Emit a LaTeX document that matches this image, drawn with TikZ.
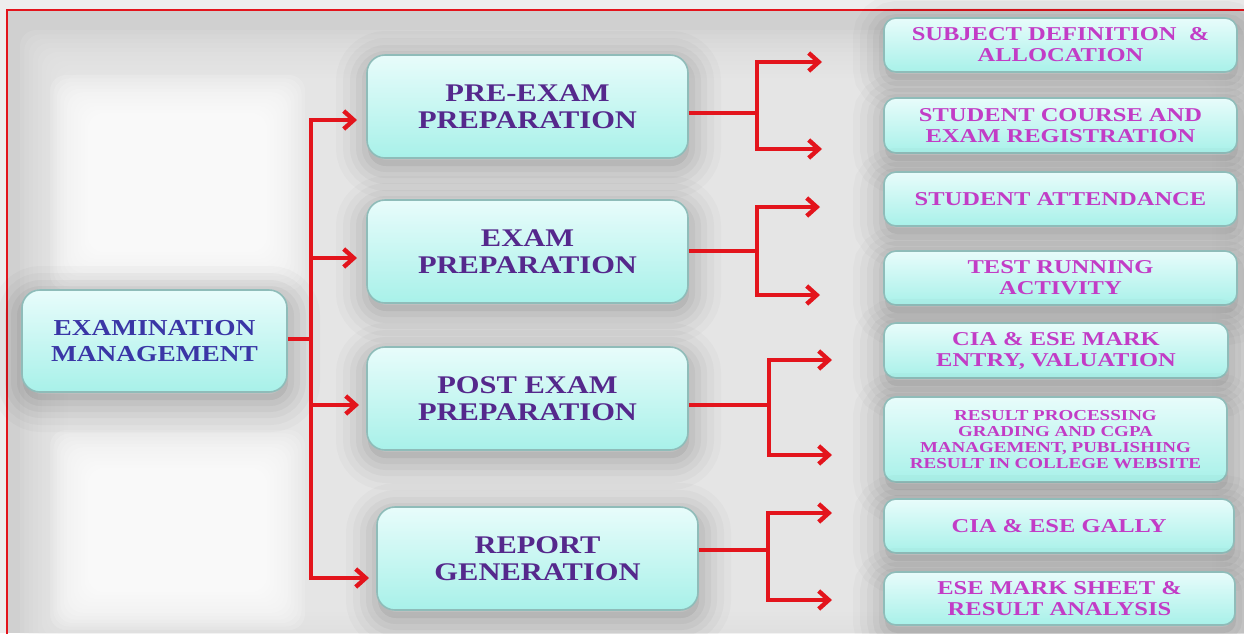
\documentclass[tikz,border=0pt]{standalone}
\usepackage{fontspec}
\newfontfamily\lblfont{Liberation Serif}[FakeStretch=1.2]
\newfontfamily\taskfont{Liberation Serif}[FakeStretch=1.25]
\usetikzlibrary{arrows.meta,calc}

\definecolor{arrowred}{HTML}{E3141C}
\definecolor{boxtop}{HTML}{E8FCFB}
\definecolor{boxbot}{HTML}{A8F1E9}
\definecolor{boxrim}{HTML}{8FBCB9}
\definecolor{maintext}{HTML}{3A36A6}
\definecolor{stagetext}{HTML}{55288C}
\definecolor{tasktext}{HTML}{C23CC6}
\definecolor{outerbg}{HTML}{EDEDED}
\definecolor{haze}{HTML}{D0D0D0}
\definecolor{lighthaze}{HTML}{EBEBEB}

% soft-edged rectangle: colour, x1, y1, x2, y2, feather
\newcommand\softpatch[6]{%
  \foreach \k in {0,...,15}{%
    \fill[#1, fill opacity=0.15, rounded corners=8pt]
      ({#2+\k*#6/16},{#3+\k*#6/16}) rectangle ({#4-\k*#6/16},{#5-\k*#6/16});
  }%
}

\tikzset{
  shadowshift/.style={transform canvas={xshift=0.5pt, yshift=-4pt}},
  softshadow/.style={
    preaction={fill=black, fill opacity=0.06, shadowshift},
    preaction={draw=black, draw opacity=0.02, line width=32pt, shadowshift},
    preaction={draw=black, draw opacity=0.025, line width=25pt, shadowshift},
    preaction={draw=black, draw opacity=0.03, line width=18pt, shadowshift},
    preaction={draw=black, draw opacity=0.035, line width=12pt, shadowshift},
    preaction={draw=black, draw opacity=0.04, line width=6pt, shadowshift},
  },
  boxbase/.style={softshadow, draw=boxrim, line width=0.8pt,
    top color=boxtop, bottom color=boxbot, inner sep=0pt, align=center},
  mainbox/.style={boxbase, rounded corners=9pt,
    minimum width=132.5pt, minimum height=51pt, text=maintext,
    font=\lblfont\bfseries\fontsize{11.4}{13}\selectfont},
  stagebox/.style={boxbase, rounded corners=9pt,
    minimum width=160.5pt, minimum height=51.5pt, text=stagetext,
    font=\lblfont\bfseries\fontsize{12.7}{13.5}\selectfont},
  taskbox/.style={boxbase, rounded corners=6pt,
    minimum height=27pt, text=tasktext,
    font=\taskfont\bfseries\fontsize{9.8}{10.5}\selectfont},
  smalltask/.style={font=\taskfont\bfseries\fontsize{7.6}{8}\selectfont},
  link/.style={draw=arrowred, line width=2.2pt},
  arrowlink/.style={link, -{Straight Barb[length=5pt,width=9pt]}},
}

\begin{document}
\begin{tikzpicture}[x=0.5pt,y=-0.5pt]
\useasboundingbox (0,0) rectangle (1244,633);
\clip (0,0) rectangle (1244,633);

% backdrop
\fill[outerbg] (0,0) rectangle (1244,633);
\fill[haze] (7,10) rectangle (1244,633);
\softpatch{lighthaze}{20}{30}{1260}{660}{70}
\softpatch{white}{50}{75}{305}{290}{55}
\softpatch{white}{50}{430}{305}{630}{55}
\draw[arrowred, line width=1.2pt] (7,660) -- (7,10) -- (1260,10);

% boxes
\node[mainbox] (em) at (154.5,341) {EXAMINATION\\MANAGEMENT};

\node[stagebox] (pre)  at (527.5,106.5) {PRE-EXAM\\PREPARATION};
\node[stagebox] (exam) at (527.5,251.5) {EXAM\\PREPARATION};
\node[stagebox] (post) at (527.5,398.5) {POST EXAM\\PREPARATION};
\node[stagebox] (rep)  at (537.5,558.5) {REPORT\\GENERATION};

\node[taskbox, minimum width=176.5pt] (t1) at (1060.5,45) {SUBJECT DEFINITION~~\&\\ALLOCATION};
\node[taskbox, minimum width=176.5pt, minimum height=27.5pt] (t2) at (1060.5,125.5) {STUDENT COURSE AND\\EXAM REGISTRATION};
\node[taskbox, minimum width=176.5pt] (t3) at (1060.5,199) {STUDENT ATTENDANCE};
\node[taskbox, minimum width=176.5pt] (t4) at (1060.5,278) {TEST RUNNING\\ACTIVITY};
\node[taskbox, minimum width=172pt, minimum height=27.5pt] (t5) at (1056,350.5) {CIA \& ESE MARK\\ENTRY, VALUATION};
\node[taskbox, smalltask, minimum width=171.5pt, minimum height=42.5pt] (t6) at (1055.5,439.5)
  {RESULT PROCESSING\\GRADING AND CGPA\\MANAGEMENT, PUBLISHING\\RESULT IN COLLEGE WEBSITE};
\node[taskbox, minimum width=175pt] (t7) at (1059,526) {CIA \& ESE GALLY};
\node[taskbox, minimum width=175.5pt, minimum height=26.5pt] (t8) at (1059.5,598.5) {ESE MARK SHEET \&\\RESULT ANALYSIS};

% trunk from the management box to the four stages
\coordinate (tk) at (311,339);
\coordinate (a1) at (357,120);
\coordinate (a2) at (357,258);
\coordinate (a3) at (359,405);
\coordinate (a4) at (369,578);
\draw[link] (em.east |- tk) -- (tk);
\draw[arrowlink] (tk |- a4) |- (a1);
\draw[arrowlink] (tk |- a1) |- (a4);
\draw[arrowlink] (tk |- a2) -- (a2);
\draw[arrowlink] (tk |- a3) -- (a3);

% fork from each stage to its tasks
\coordinate (j1) at (757,113);
\coordinate (b1) at (822,62);
\coordinate (b2) at (822,149);
\draw[link] (pre.east |- j1) -- (j1);
\draw[arrowlink] (j1) |- (b1);
\draw[arrowlink] (j1) |- (b2);

\coordinate (j2) at (757,251);
\coordinate (b3) at (820,207);
\coordinate (b4) at (820,295);
\draw[link] (exam.east |- j2) -- (j2);
\draw[arrowlink] (j2) |- (b3);
\draw[arrowlink] (j2) |- (b4);

\coordinate (j3) at (769,405);
\coordinate (b5) at (832,360);
\coordinate (b6) at (832,455);
\draw[link] (post.east |- j3) -- (j3);
\draw[arrowlink] (j3) |- (b5);
\draw[arrowlink] (j3) |- (b6);

\coordinate (j4) at (768,550);
\coordinate (b7) at (832,513);
\coordinate (b8) at (832,600);
\draw[link] (rep.east |- j4) -- (j4);
\draw[arrowlink] (j4) |- (b7);
\draw[arrowlink] (j4) |- (b8);
\end{tikzpicture}
\end{document}
